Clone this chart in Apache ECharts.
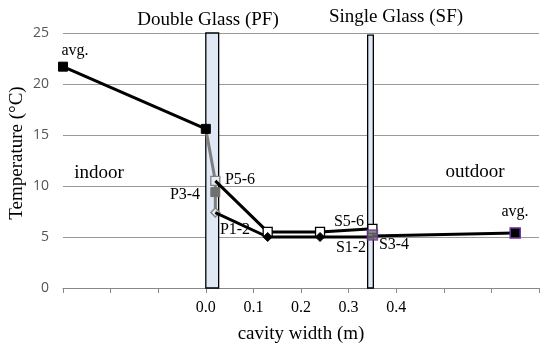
<!DOCTYPE html>
<html><head><meta charset="utf-8">
<script src="https://cdn.jsdelivr.net/npm/echarts@6/dist/echarts.min.js"></script>
<style>html,body{margin:0;padding:0;background:#fff}#c{width:550px;height:348px}</style>
</head><body><div id="c"></div>
<script>
// ---- data ----
const xTickValues = [-0.3,-0.2,-0.1,0.0,0.1,0.2,0.3,0.4,0.5,0.6,0.7];
const xTickLabels = ['','','','0.0','0.1','0.2','0.3','0.4','','',''];
const yTicks = [0,5,10,15,20,25];
const indoorX = [-0.3, 0.0];
const indoorY = [21.7, 15.6];
const dropX = [0.0, 0.02, 0.02, 0.02];
const dropY = [15.6, 10.5, 9.4, 7.4];
const p56X = [0.02, 0.13, 0.24, 0.35];
const p56Y = [10.5, 5.5, 5.5, 5.8];
const p12X = [0.02, 0.13, 0.24, 0.35];
const p12Y = [7.4, 5.0, 5.0, 5.0];
const s34X = [0.35];
const s34Y = [5.2];
const outdoorX = [0.35, 0.65];
const outdoorY = [5.1, 5.4];
const doubleGlass = [0.0, 0.027, 0, 25];
const singleGlass = [0.340, 0.352, 0, 24.8];

const zip = (xs, ys) => xs.map((x, i) => [x, ys[i]]);
const serif = '"Liberation Serif","Times New Roman",serif';
const purple = '#7030a0';

const chart = echarts.init(document.getElementById('c'), null, {renderer: 'canvas'});
const glassStyle = {color: '#dfe8f4', borderColor: '#000', borderWidth: 1.3, opacity: 1};

function txt(t, x, y, size, rot) {
  return {type: 'text', x: x, y: y, z: 100, rotation: rot || 0,
    style: {text: t, font: size + 'px ' + serif, fill: '#000', textAlign: 'center', textVerticalAlign: 'middle'}};
}

const opt = {
  animation: false,
  grid: {left: 63, right: 11, top: 33, bottom: 60, containLabel: false, outerBoundsMode: 'none'},
  xAxis: {
    type: 'value', min: -0.3, max: 0.7, interval: 0.1,
    name: 'cavity width (m)', nameLocation: 'middle', nameGap: 37,
    nameTextStyle: {fontFamily: serif, fontSize: 19, color: '#000'},
    axisLine: {show: true, onZero: false, lineStyle: {color: '#888', width: 1}},
    axisTick: {show: true, length: 5, lineStyle: {color: '#888'}},
    splitLine: {show: false},
    axisLabel: {
      fontFamily: serif, fontSize: 16, color: '#000', margin: 12,
      formatter: v => { const i = xTickValues.findIndex(t => Math.abs(t - v) < 1e-6); return i >= 0 ? xTickLabels[i] : ''; }
    }
  },
  yAxis: {
    type: 'value', min: 0, max: 25, interval: 5,
    axisLine: {show: false}, axisTick: {show: false},
    splitLine: {lineStyle: {color: '#999', width: 1}},
    axisLabel: {fontFamily: '"Open Sans",sans-serif', fontSize: 14, color: '#555', margin: 14,
      formatter: v => yTicks.includes(v) ? String(v) : ''}
  },
  series: [
    {
      type: 'line', data: [], silent: true, z: 1,
      markArea: {silent: true, itemStyle: glassStyle, data: [
        [{coord: [doubleGlass[0], doubleGlass[2]]}, {coord: [doubleGlass[1], doubleGlass[3]]}],
        [{coord: [singleGlass[0], singleGlass[2]]}, {coord: [singleGlass[1], singleGlass[3]]}]
      ]}
    },
    {
      type: 'line', z: 5, data: zip(indoorX, indoorY),
      lineStyle: {color: '#000', width: 3}, symbol: 'rect', symbolSize: 9,
      itemStyle: {color: '#000', borderColor: '#000'}
    },
    {
      type: 'line', z: 4, data: zip(dropX, dropY).map((p, i) => ({
        value: p,
        symbol: i === 3 ? 'diamond' : 'rect',
        symbolSize: i === 0 ? 0 : 9,
        itemStyle: i === 2 ? {color: '#707070', borderColor: '#707070'} : {color: '#e8edf4', borderColor: '#808080', borderWidth: 1.3}
      })),
      lineStyle: {color: '#7f7f7f', width: 3}, showAllSymbol: true
    },
    {
      type: 'line', z: 6, data: zip(p56X, p56Y).map((p, i) => ({
        value: p, symbolSize: i === 0 ? 0 : 9
      })),
      lineStyle: {color: '#000', width: 3}, symbol: 'rect',
      itemStyle: {color: '#fff', borderColor: '#000', borderWidth: 1.3}
    },
    {
      type: 'line', z: 6, data: zip(p12X, p12Y).map((p, i) => ({
        value: p, symbolSize: (i === 0 || i === 3) ? 0 : 9
      })),
      lineStyle: {color: '#000', width: 3}, symbol: 'diamond',
      itemStyle: {color: '#000', borderColor: '#000'}
    },
    {
      type: 'line', z: 6, data: zip(outdoorX, outdoorY).map((p, i) => ({
        value: p, symbolSize: i === 0 ? 0 : 10
      })),
      lineStyle: {color: '#000', width: 3}, symbol: 'rect',
      itemStyle: {color: '#000', borderColor: purple, borderWidth: 1.5}
    },
    {
      type: 'scatter', z: 7, data: zip(s34X, s34Y), symbol: 'rect', symbolSize: 10,
      itemStyle: {color: '#6d6d6d', borderColor: purple, borderWidth: 1.5}
    }
  ],
  graphic: [
    txt('Temperature (°C)', 17, 153, 19, Math.PI / 2),
    txt('Double Glass (PF)', 208, 20, 19),
    txt('Single Glass (SF)', 396, 17, 19),
    txt('indoor', 99, 173, 19),
    txt('outdoor', 475, 172, 19),
    txt('avg.', 75, 51, 16),
    txt('avg.', 515, 212, 16),
    txt('P5-6', 240, 180, 16),
    txt('P3-4', 185, 195, 16),
    txt('P1-2', 235, 230, 16),
    txt('S5-6', 349, 222, 16),
    txt('S1-2', 351, 248, 16),
    txt('S3-4', 394, 245, 16)
  ]
};
chart.setOption(opt);
</script></body></html>
